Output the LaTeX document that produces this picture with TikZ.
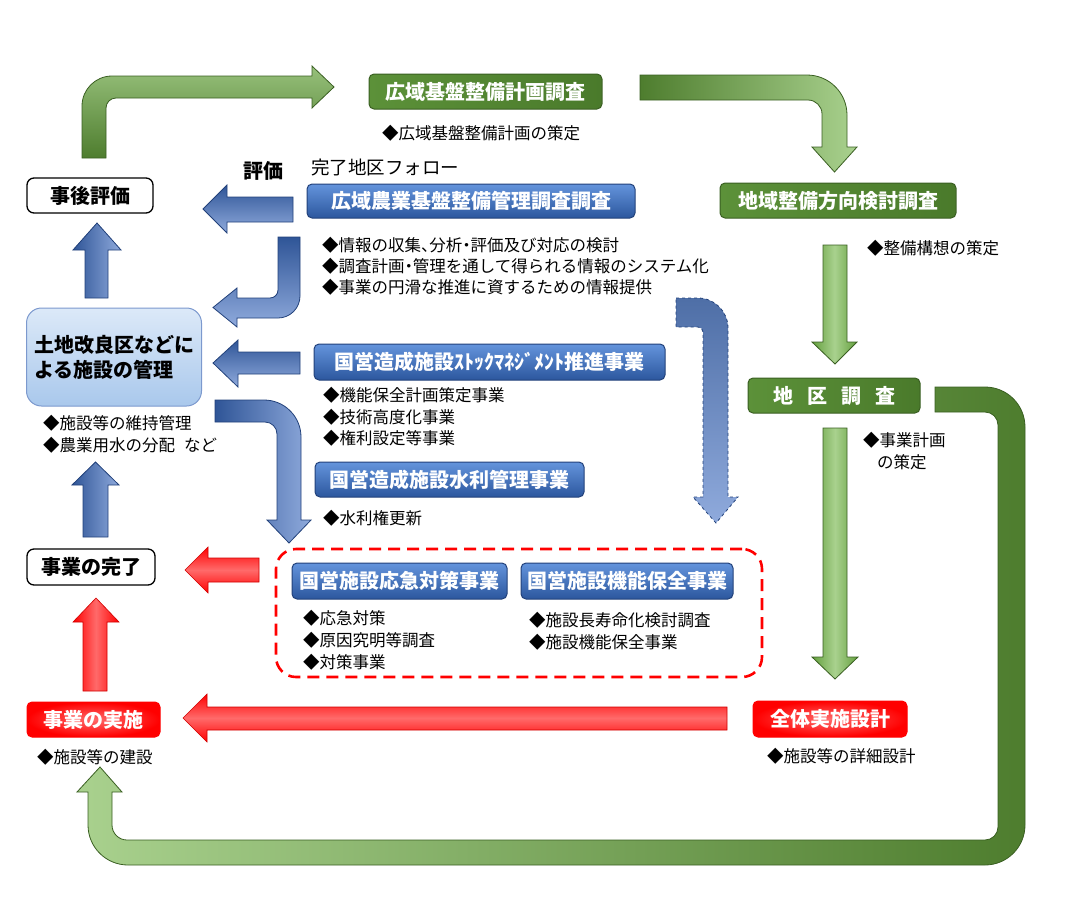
\documentclass[tikz,border=0pt]{standalone}
\usepackage{fontspec}
\setmainfont{Noto Sans CJK JP}

\definecolor{gdark}{HTML}{4E7D2E}
\definecolor{glight}{HTML}{A9D18E}
\definecolor{gmid}{HTML}{64A03E}
\definecolor{gedge}{HTML}{3A5F22}
\definecolor{gbox}{HTML}{5C9139}
\definecolor{gboxd}{HTML}{4A7A2B}
\definecolor{bdark}{HTML}{2F5597}
\definecolor{blight}{HTML}{8FAADC}
\definecolor{bedge}{HTML}{22417A}
\definecolor{bboxt}{HTML}{6494DC}
\definecolor{bboxb}{HTML}{2C579E}
\definecolor{rmain}{HTML}{FF0000}
\definecolor{rlight}{HTML}{FF6A6A}
\definecolor{redge}{HTML}{D00000}
\definecolor{tochit}{HTML}{DCE9F8}
\definecolor{tochib}{HTML}{A9C8EC}

\newcommand{\boxfont}{\fontsize{20pt}{25pt}\selectfont\bfseries}
\newcommand{\txtfont}{\fontsize{16.5pt}{21.5pt}\selectfont}
\newcommand{\narrowp}[1]{\makebox[0.5em][l]{#1}}
\newcommand{\narrowc}[1]{\makebox[0.5em][c]{#1}}

\tikzset{
  boxbase/.style={rounded corners=5pt, inner sep=0pt, font=\boxfont, text=white, line width=1pt},
  greenbox/.style={boxbase, draw=gedge, left color=gbox, right color=gboxd},
  bluebox/.style={boxbase, draw=bedge, top color=bboxt, bottom color=bboxb},
  redbox/.style={boxbase, draw=rmain, inner color=rlight, outer color=rmain},
  whitebox/.style={boxbase, draw=black, fill=white, text=black, line width=1.3pt, rounded corners=7pt},
  itemtext/.style={anchor=west, inner sep=0pt, font=\txtfont},
  garrow/.style={draw=gedge, line width=0.8pt},
  barrow/.style={draw=bedge, line width=0.8pt},
  rarrow/.style={draw=redge, line width=0.6pt}
}

\begin{document}
\begin{tikzpicture}[x=1pt,y=-1pt]
\useasboundingbox (0,0) rectangle (1076,911);

% green arrows
\path[garrow, bottom color=gdark, top color=glight!80!gdark]
  (82,158) -- (82,106) arc(180:270:30) -- (312,76) -- (312,66) -- (334,87)
  -- (312,108) -- (312,98) -- (116,98) arc(270:180:10) -- (106,158) -- cycle;
\path[garrow, left color=gdark, right color=glight]
  (640,75) -- (807,75) arc(270:360:40) -- (847,147) -- (857,147) -- (834.5,172)
  -- (812,147) -- (822,147) -- (822,114) arc(0:-90:14) -- (640,100) -- cycle;
\path[garrow, left color=gmid, right color=gmid, middle color=glight]
  (823,245) -- (847,245) -- (847,342) -- (857,342) -- (835,364) -- (812,342) -- (823,342) -- cycle;
\path[garrow, left color=gmid, right color=gmid, middle color=glight]
  (823,428) -- (847,428) -- (847,657) -- (858,657) -- (835,679) -- (812,657) -- (823,657) -- cycle;
\path[garrow, left color=glight, right color=gdark]
  (935,387) -- (985,387) arc(270:360:40) -- (1025,825) arc(0:90:40) -- (128,865)
  arc(90:180:40) -- (88,792) -- (77,792) -- (100,767) -- (122,792) -- (112,792)
  -- (112,825) arc(180:90:15) -- (985,840) arc(90:0:13) -- (998,425) arc(0:-90:13)
  -- (935,412) -- cycle;

% blue arrows
\path[barrow, top color=bdark, bottom color=blight]
  (293,197) -- (227,197) -- (227,185) -- (203,209) -- (227,233) -- (227,222) -- (293,222) -- cycle;
\path[barrow, left color=bdark, right color=blight]
  (85,298) -- (85,250) -- (73,250) -- (97,223) -- (121,250) -- (108,250) -- (108,298) -- cycle;
\path[barrow, top color=bdark, bottom color=blight]
  (278,237) -- (300,237) -- (300,296) arc(0:90:22) -- (237,318) -- (237,327) -- (213,307.5)
  -- (237,288) -- (237,298) -- (270,298) arc(90:0:8) -- cycle;
\path[barrow, top color=bdark, bottom color=blight]
  (300,352) -- (238,352) -- (238,340) -- (213,363) -- (238,387) -- (238,374) -- (300,374) -- cycle;
\path[barrow, left color=bdark, right color=blight]
  (215,400) -- (264,400) arc(270:360:37) -- (301,520) -- (311,520) -- (289,543)
  -- (267,520) -- (277,520) -- (277,434) arc(0:-90:12) -- (215,422) -- cycle;
\path[barrow, dashed, top color=bdark!85, bottom color=blight]
  (676,298) -- (698,298) arc(270:360:30) -- (728,497) -- (738,497) -- (716,523)
  -- (693,497) -- (703,497) -- (703,332) arc(0:-90:5) -- (676,327) -- cycle;
\path[barrow, left color=bdark, right color=blight]
  (83,537) -- (83,485) -- (72,485) -- (95.5,462) -- (119,485) -- (108,485) -- (108,537) -- cycle;

% red arrows
\path[rarrow, top color=rmain, bottom color=rmain, middle color=rlight]
  (259,558) -- (208,558) -- (208,547) -- (185,570) -- (208,593) -- (208,582) -- (259,582) -- cycle;
\path[rarrow, left color=rmain, right color=rmain, middle color=rlight]
  (83,691) -- (83,622) -- (73,622) -- (96,598) -- (119,622) -- (107,622) -- (107,691) -- cycle;
\path[rarrow, top color=rmain, bottom color=rmain, middle color=rlight]
  (727,707) -- (207,707) -- (207,694) -- (183,718) -- (207,742) -- (207,730) -- (727,730) -- cycle;

% boxes
\node[greenbox, minimum width=233pt, minimum height=35pt] (plan) at (485.5,91.5) {広域基盤整備計画調査};
\node[bluebox, minimum width=328pt, minimum height=34pt] (mgmt) at (471,201) {広域農業基盤整備管理調査調査};
\node[greenbox, minimum width=236pt, minimum height=35pt] (dir) at (838,200.5) {地域整備方向検討調査};
\node[greenbox, minimum width=172pt, minimum height=35pt] (chiku) at (834,395.5)
  {地\hspace{14pt}区\hspace{14pt}調\hspace{14pt}査};
\node[bluebox, minimum width=351pt, minimum height=36pt] (stock) at (489.5,362) {国営造成施設ｽﾄｯｸﾏﾈｼﾞﾒﾝﾄ推進事業};
\node[bluebox, minimum width=269pt, minimum height=35pt] (suiri) at (449.5,479.5) {国営造成施設水利管理事業};
\node[draw=rmain, dashed, dash pattern=on 12pt off 7pt, line width=2.6pt, rounded corners=20pt,
  minimum width=486pt, minimum height=128pt] (emerg) at (519,613) {};
\node[bluebox, minimum width=215pt, minimum height=36pt] (kinkyu) at (399.5,581) {国営施設応急対策事業};
\node[bluebox, minimum width=212pt, minimum height=36pt] (hozen) at (627,581) {国営施設機能保全事業};
\node[whitebox, minimum width=126pt, minimum height=35pt] (jigo) at (90,195.5) {事後評価};
\node[boxbase, draw=blight!80!bdark, top color=tochit, bottom color=tochib, text=black,
  rounded corners=15pt, minimum width=175pt, minimum height=98pt, align=left,
  font=\fontsize{20pt}{25pt}\selectfont\bfseries] (tochi) at (114,357) {土地改良区などに\\よる施設の管理};
\node[whitebox, minimum width=128pt, minimum height=36pt] (kanryo) at (91,567) {事業の完了};
\node[redbox, minimum width=133pt, minimum height=35pt] (jisshi) at (93.5,719.5) {事業の実施};
\node[redbox, minimum width=154pt, minimum height=36pt] (sekkei) at (830,719) {全体実施設計};

% labels
\node[itemtext] (planN) at (382,133) {◆広域基盤整備計画の策定};
\node[itemtext, font=\boxfont] (hyoka) at (243,171) {評価};
\node[itemtext, font=\fontsize{18.5pt}{22pt}\selectfont] (follow) at (311,167) {完了地区フォロー};
\node[itemtext] (mgmtA) at (322,245) {◆情報の収集\narrowp{、}分析\narrowc{・}評価及び対応の検討};
\node[itemtext] (mgmtB) at (322,266) {◆調査計画\narrowc{・}管理を通して得られる情報のシステム化};
\node[itemtext] (mgmtC) at (322,287) {◆事業の円滑な推進に資するための情報提供};
\node[itemtext] (dirN) at (867,248) {◆整備構想の策定};
\node[itemtext, align=left] (chikuN) at (863,451) {◆事業計画\\\hspace{14pt}の策定};
\node[itemtext] (stockA) at (323,395) {◆機能保全計画策定事業};
\node[itemtext] (stockB) at (323,417) {◆技術高度化事業};
\node[itemtext] (stockC) at (323,438) {◆権利設定等事業};
\node[itemtext] (suiriN) at (323,518) {◆水利権更新};
\node[itemtext] (kinkyuA) at (303,618) {◆応急対策};
\node[itemtext] (kinkyuB) at (303,640) {◆原因究明等調査};
\node[itemtext] (kinkyuC) at (303,662) {◆対策事業};
\node[itemtext] (hozenA) at (529,620) {◆施設長寿命化検討調査};
\node[itemtext] (hozenB) at (529,642) {◆施設機能保全事業};
\node[itemtext] (tochiA) at (43,423) {◆施設等の維持管理};
\node[itemtext] (tochiB) at (43,445) {◆農業用水の分配\hspace{9pt}など};
\node[itemtext] (jisshiN) at (37,757) {◆施設等の建設};
\node[itemtext] (sekkeiN) at (767,756) {◆施設等の詳細設計};
\end{tikzpicture}
\end{document}
